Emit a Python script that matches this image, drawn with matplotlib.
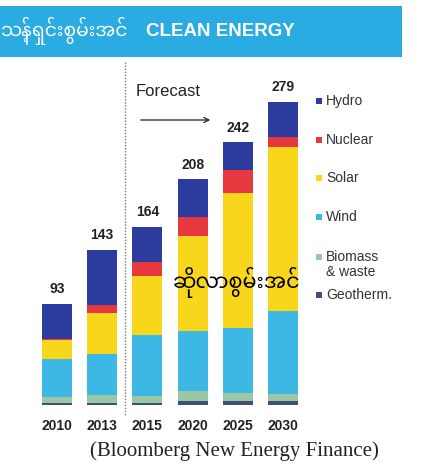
import matplotlib
matplotlib.use('Agg')
import matplotlib.pyplot as plt
from matplotlib.patches import Rectangle, FancyArrowPatch
from matplotlib.lines import Line2D

# data (GW)
years = ['2010', '2013', '2015', '2020', '2025', '2030']
totals = [93, 143, 164, 208, 242, 279]
geotherm = [2, 2, 2, 4, 4, 4]
biomass = [5, 7, 6, 9, 7, 6]
wind = [35, 38, 56, 55, 60, 77]
solar = [18, 38, 55, 88, 124, 151]
nuclear = [1, 7, 13, 17, 21, 9]
hydro = [32, 51, 32, 35, 26, 32]

series = [('Geotherm.', geotherm, '#3f4f78'),
          ('Biomass\n& waste', biomass, '#9cc7a4'),
          ('Wind', wind, '#3db7e4'),
          ('Solar', solar, '#f7d61c'),
          ('Nuclear', nuclear, '#e8383f'),
          ('Hydro', hydro, '#2b3c9e')]

MYAN = ['Noto Sans Myanmar', 'Padauk', 'Myanmar Sans Pro', 'DejaVu Sans']
SANS = ['Liberation Sans', 'DejaVu Sans']

W, H = 431, 467
fig = plt.figure(figsize=(W / 100, H / 100), dpi=100)
fig.patch.set_facecolor('white')


def fx(px):
    return px / W


def fy(py):
    return 1 - py / H


# header band
fig.patches.append(Rectangle((0, fy(57)), fx(402), (57 - 6) / H, transform=fig.transFigure,
                             facecolor='#2aace2', edgecolor='none'))
fig.text(fx(0), fy(31), 'သန့်ရှင်းစွမ်းအင်', color='white', fontsize=13.5, family=MYAN,
         va='center', ha='left')
fig.text(fx(146), fy(31), 'CLEAN ENERGY', color='white', fontsize=13.5, fontweight='bold',
         family=SANS, va='center', ha='left')

# bar axes: baseline at 405 px, 1.086 px per unit, bar pitch 45.2 px
x0, pitch, scale = 57, 45.2, 1.086
ax = fig.add_axes([fx(30), fy(405), fx(280), 345 / H])
ax.set_xlim(-27 / pitch, (310 - x0) / pitch)
ax.set_ylim(0, 345 / scale)
xs = list(range(len(years)))
bottom = [0] * len(years)
for name, vals, col in series:
    ax.bar(xs, vals, width=30 / pitch, bottom=bottom, color=col, edgecolor='none')
    bottom = [b + v for b, v in zip(bottom, vals)]
for x, t in zip(xs, totals):
    ax.text(x, t + 7, str(t), ha='center', va='bottom', fontsize=10, fontweight='bold',
            family=SANS, color='#222222')
ax.set_xticks(xs)
ax.set_xticklabels(years, fontsize=10, fontweight='bold', family=SANS, color='#222222')
ax.tick_params(axis='x', length=0, pad=10)
ax.set_yticks([])
for s in ax.spines.values():
    s.set_visible(False)
ax.patch.set_alpha(0)

# forecast divider and arrow
fig.lines.append(Line2D([fx(125), fx(125)], [fy(62), fy(415)], transform=fig.transFigure,
                        color='#777777', lw=1, ls=(0, (1, 1.2))))
fig.text(fx(136), fy(92), 'Forecast', fontsize=12, family=SANS, color='#222222',
         va='center', ha='left')
fig.patches.append(FancyArrowPatch((fx(138), fy(120)), (fx(213), fy(120)), transform=fig.transFigure,
                                   arrowstyle='->', mutation_scale=9, color='#222222', lw=0.9))

# watermark
fig.text(fx(237), fy(283), 'ဆိုလာစွမ်းအင်', fontsize=15, family=MYAN, color='black',
         ha='center', va='center')

# legend
leg_y = {'Hydro': 101, 'Nuclear': 140, 'Solar': 178, 'Wind': 217, 'Biomass\n& waste': 257, 'Geotherm.': 295}
for name, vals, col in series:
    y = leg_y[name]
    fig.patches.append(Rectangle((fx(316), fy(y + 3)), fx(6), 6 / H, transform=fig.transFigure,
                                 facecolor=col, edgecolor='none'))
    two = '\n' in name
    fig.text(fx(326), fy(y - 7) if two else fy(y), name, fontsize=10, family=SANS, color='#333333',
             va='top' if two else 'center', ha='left', linespacing=1.05)

# source
fig.text(fx(234), fy(451), '(Bloomberg New Energy Finance)', fontsize=15, family='Liberation Serif',
         color='#222222', ha='center', va='center')

fig.savefig('out.png', dpi=100)
